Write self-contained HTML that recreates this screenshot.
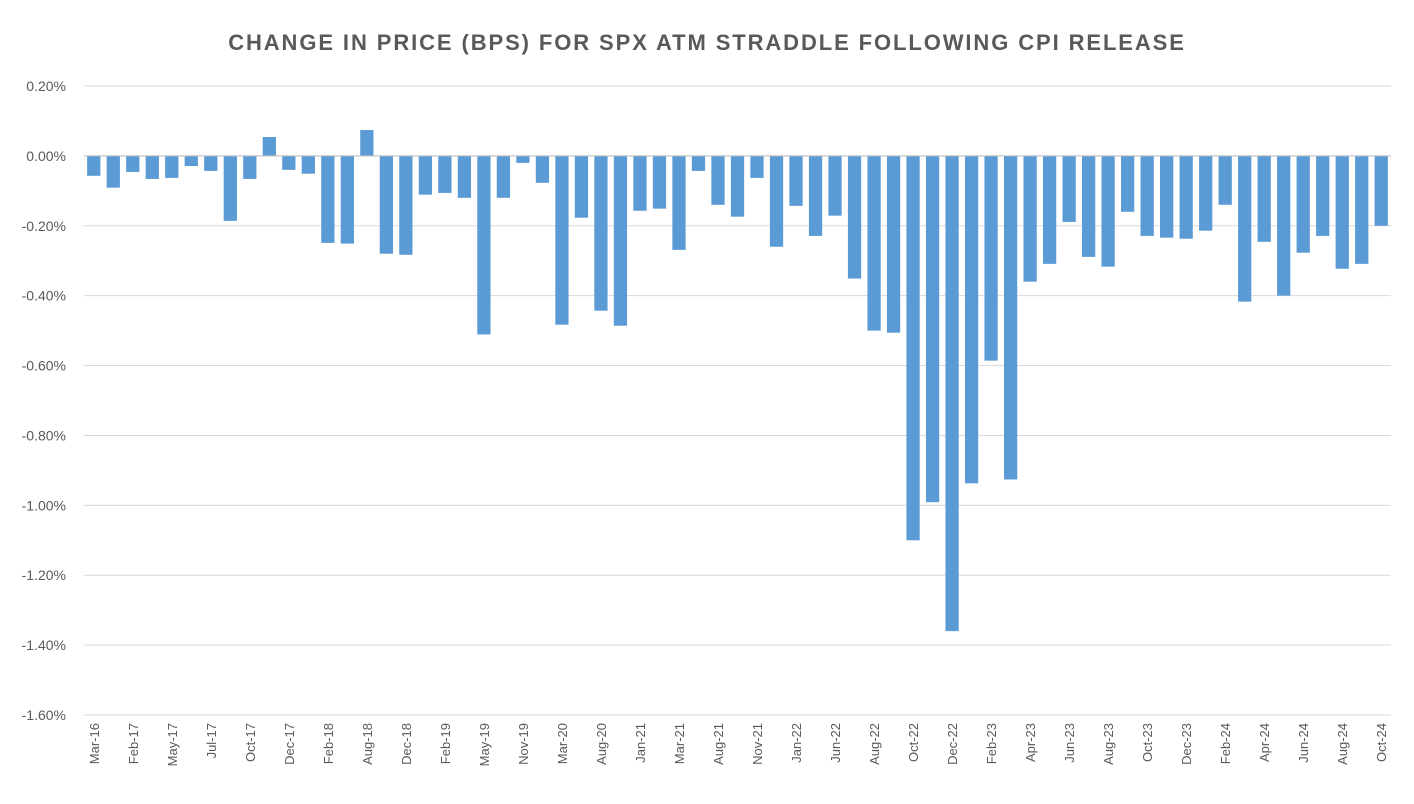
<!DOCTYPE html>
<html><head><meta charset="utf-8"><style>
body{margin:0;background:#fff;font-family:"Liberation Sans",sans-serif;}
svg text{font-family:"Liberation Sans",sans-serif;}
</style></head><body>
<svg id="chart" width="1414" height="799" xmlns="http://www.w3.org/2000/svg">
<rect width="1414" height="799" fill="#fff"/>
<text x="707" y="50" text-anchor="middle" font-size="22" font-weight="bold" fill="#595959" letter-spacing="1.9">CHANGE IN PRICE (BPS) FOR SPX ATM STRADDLE FOLLOWING CPI RELEASE</text>
<g id="grid"></g><g id="bars"></g><g id="axes"></g>
</svg>
<script>
const values=[-0.057,-0.091,-0.046,-0.066,-0.063,-0.029,-0.043,-0.186,-0.066,0.054,-0.04,-0.051,-0.249,-0.251,0.074,-0.28,-0.283,-0.111,-0.106,-0.12,-0.511,-0.12,-0.02,-0.077,-0.483,-0.177,-0.443,-0.486,-0.157,-0.151,-0.269,-0.043,-0.14,-0.174,-0.063,-0.26,-0.143,-0.229,-0.171,-0.351,-0.5,-0.506,-1.1,-0.991,-1.36,-0.937,-0.586,-0.926,-0.36,-0.309,-0.189,-0.289,-0.317,-0.16,-0.229,-0.234,-0.237,-0.214,-0.14,-0.417,-0.246,-0.4,-0.277,-0.229,-0.323,-0.309,-0.2];
const tickLabels=["Mar-16","Feb-17","May-17","Jul-17","Oct-17","Dec-17","Feb-18","Aug-18","Dec-18","Feb-19","May-19","Nov-19","Mar-20","Aug-20","Jan-21","Mar-21","Aug-21","Nov-21","Jan-22","Jun-22","Aug-22","Oct-22","Dec-22","Feb-23","Apr-23","Jun-23","Aug-23","Oct-23","Dec-23","Feb-24","Apr-24","Jun-24","Aug-24","Oct-24"];
const yTicks=[0.2,0,-0.2,-0.4,-0.6,-0.8,-1.0,-1.2,-1.4,-1.6];
const NS="http://www.w3.org/2000/svg";
const X0=84,X1=1391,Y0=86,Y1=715,YMAX=0.2,YMIN=-1.6;
const y=v=>Y0+(YMAX-v)/(YMAX-YMIN)*(Y1-Y0);
const bw=(X1-X0)/values.length;
const xc=i=>X0+bw*(i+0.5);
function mk(t,a,p){const e=document.createElementNS(NS,t);for(const k in a)e.setAttribute(k,a[k]);p.appendChild(e);return e;}
const grid=document.getElementById('grid'),bars=document.getElementById('bars'),axes=document.getElementById('axes');
yTicks.forEach(v=>{
 const l=mk('line',{x1:X0,x2:X1,y1:y(v),y2:y(v),stroke:'#d9d9d9','stroke-width':1},grid);
 
 
 const t=mk('text',{x:66,y:y(v)+5,'text-anchor':'end','font-size':14,fill:'#595959'},axes);
 t.textContent=v.toFixed(2)+'%';
 
 
});
values.forEach((v,i)=>{
 const w=bw*0.68;
 const r=mk('rect',{x:xc(i)-w/2,y:Math.min(y(v),y(0)),width:w,height:Math.abs(y(v)-y(0)),fill:'#5b9bd5'},bars);
 
 
});
const ax=mk('line',{x1:X0,x2:X1,y1:y(0),y2:y(0),stroke:'#bfbfbf','stroke-width':1},axes);


tickLabels.forEach((s,j)=>{
 const cx=xc(j*2);
 const t=mk('text',{x:0,y:0,'text-anchor':'end','font-size':13,fill:'#595959',transform:`translate(${cx+5},${Y1+8}) rotate(-90)`},axes);
 t.textContent=s;
 
 
});
</script>
</body></html>
